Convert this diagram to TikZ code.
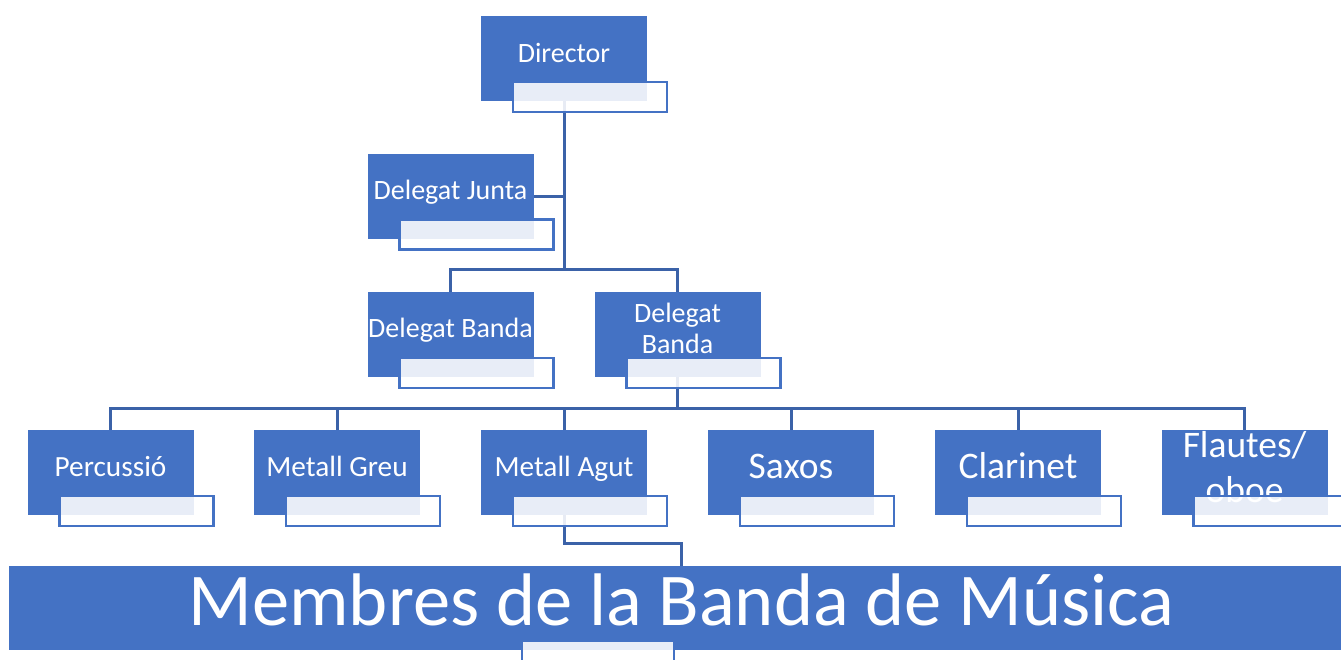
\documentclass[tikz,border=0pt]{standalone}
\usepackage{fontspec}
\setmainfont{Carlito}
\usetikzlibrary{calc}
\definecolor{boxblue}{HTML}{4472C4}
\definecolor{linkblue}{HTML}{3B62A8}
\pgfdeclarelayer{back}
\pgfdeclarelayer{bg}
\pgfsetlayers{back,bg,main}
\begin{document}
\begin{tikzpicture}[x=1pt,y=-1pt,
  bluebox/.style={rectangle, fill=boxblue, draw=none, minimum width=166pt, minimum height=85pt, inner sep=0pt},
  subbox/.style={rectangle, fill=white, fill opacity=0.88, draw=boxblue, line width=2.5pt, minimum width=154pt, minimum height=30pt, inner sep=0pt},
  lbl/.style={text=white, anchor=base, inner sep=0pt, font=\fontsize{29.3}{34}\selectfont},
  toplbl/.style={lbl, font=\fontsize{28}{34}\selectfont},
  biglbl/.style={lbl, font=\fontsize{37.5}{45}\selectfont},
  link/.style={draw=linkblue, line width=3pt}]
\clip (0,0) rectangle (1341,659);
\begin{pgfonlayer}{back}
\fill[white] (0,0) rectangle (1341,659);
\end{pgfonlayer}

% blue boxes
\node[bluebox] (dir) at (564,58.5) {};
\node[bluebox] (dj)  at (450.5,196) {};
\node[bluebox] (dbl) at (450.5,334.5) {};
\node[bluebox] (dbr) at (677.5,334.5) {};
\node[bluebox] (perc) at (110.5,472.5) {};
\node[bluebox] (mg)  at (337,472.5) {};
\node[bluebox] (ma)  at (564,472.5) {};
\node[bluebox] (sax) at (791,472.5) {};
\node[bluebox] (cla) at (1018,472.5) {};
\node[bluebox] (fla) at (1244.5,472.5) {};
\node[rectangle, fill=boxblue, minimum width=1345pt, minimum height=84pt, inner sep=0pt] (ban) at (681.5,608) {};

% texts
\node[toplbl] (t-dir) at (564,62) {Director};
\node[toplbl] (t-dj)  at (450.5,199) {Delegat Junta};
\node[toplbl] (t-dbl) at (450.5,337) {Delegat Banda};
\node[toplbl] (t-dbr1) at (677.5,322) {Delegat};
\node[toplbl] (t-dbr2) at (677.5,353) {Banda};
\node[lbl] (t-perc) at (110.5,476) {Percussió};
\node[lbl] (t-mg) at (337,476) {Metall Greu};
\node[lbl] (t-ma) at (564,476) {Metall Agut};
\node[biglbl] (t-sax) at (791,478) {Saxos};
\node[biglbl] (t-cla) at (1018,478) {Clarinet};
\node[biglbl] (t-fla1) at (1244.5,457) {Flautes/};
\node[biglbl] (t-fla2) at (1244.5,502) {oboe};
\node[text=white, anchor=base, inner sep=0pt, font=\fontsize{74.5}{88}\selectfont] (t-ban) at (681.5,625) {Membres de la Banda de Música};

% white sub-boxes
\foreach \n in {dir,dj,dbl,dbr,perc,mg,ma,sax,cla,fla}{
  \node[subbox] (\n-w) at ($(\n)+(26,38.5)$) {};
}
\node[subbox, minimum width=152pt] (ban-w) at (598,656) {};

% connectors
\coordinate (bus1) at (564,269);
\coordinate (bus2) at (677.5,408);
\coordinate (jog) at (681,543);
\begin{pgfonlayer}{bg}
\draw[link] (dir.south) -- (bus1);
\draw[link] (dj.east) -- (dj.east -| dir.south);
\draw[link] (dbl.north) |- (bus1) -| (dbr.north);
\draw[link] (dbr.south) -- (bus2);
\foreach \n in {perc,mg,ma,sax,cla,fla}{
  \draw[link] (bus2) -| (\n.north);
}
\draw[link] (ma.south) |- (jog) -- (jog |- ban.north);
\end{pgfonlayer}
\end{tikzpicture}
\end{document}
